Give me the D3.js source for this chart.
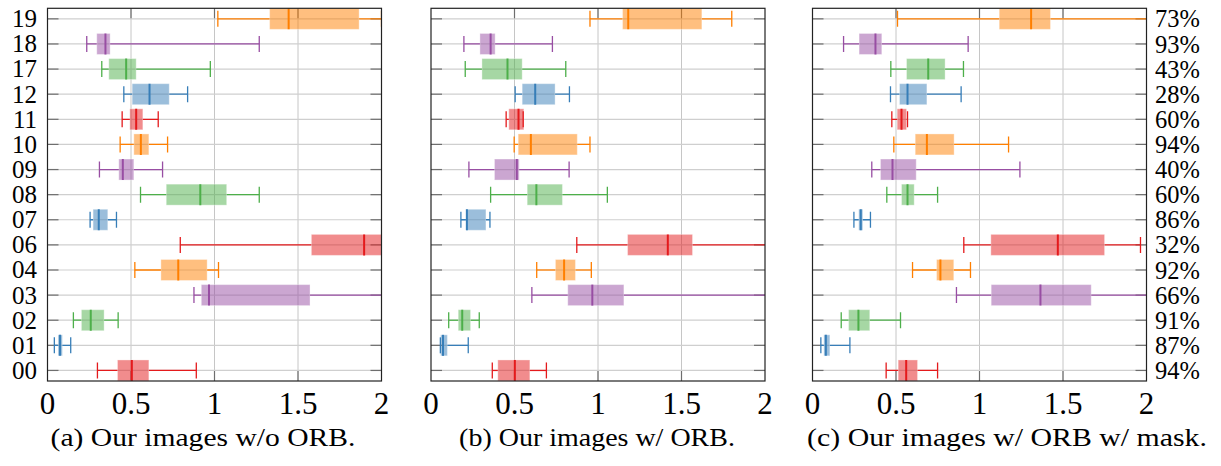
<!DOCTYPE html>
<html>
<head>
<meta charset="utf-8">
<script src="https://cdn.jsdelivr.net/npm/d3@7"></script>
<style>
  html, body { margin: 0; padding: 0; background: #fff; }
  svg { display: block; }
</style>
</head>
<body>
<svg id="chart" width="1221" height="466"></svg>
<script>
// Sequence names, bottom row first
const rowLabels = ["00", "01", "02", "03", "04", "06", "07", "08", "09", "10", "11", "12", "17", "18", "19"];

// Success rates printed beside the third panel (same row order)
const percentLabels = ["94%", "87%", "91%", "66%", "92%", "32%", "86%", "60%", "40%", "94%", "60%", "28%", "43%", "93%", "73%"];

// X axis ticks
const xTicks = [0, 0.5, 1, 1.5, 2];
const xTickLabels = ["0", "0.5", "1", "1.5", "2"];

// Box statistics per row: [lower whisker, Q1, median, Q3, upper whisker]
const statsNoOrb = [
  [0.299, 0.419, 0.505, 0.607, 0.891],
  [0.041, 0.063, 0.075, 0.089, 0.139],
  [0.155, 0.203, 0.259, 0.339, 0.423],
  [0.877, 0.921, 0.967, 1.572, 2.3],
  [0.523, 0.679, 0.783, 0.956, 1.024],
  [0.795, 1.580, 1.896, 2.05, 2.5],
  [0.255, 0.273, 0.307, 0.361, 0.413],
  [0.557, 0.711, 0.915, 1.073, 1.268],
  [0.311, 0.427, 0.451, 0.517, 0.689],
  [0.435, 0.517, 0.559, 0.607, 0.719],
  [0.447, 0.493, 0.531, 0.571, 0.663],
  [0.457, 0.507, 0.611, 0.729, 0.839],
  [0.325, 0.367, 0.471, 0.531, 0.975],
  [0.235, 0.295, 0.347, 0.375, 1.268],
  [1.020, 1.330, 1.444, 1.866, 2.0]
];

const statsOrb = [
  [0.367, 0.400, 0.502, 0.592, 0.691],
  [0.056, 0.058, 0.072, 0.098, 0.223],
  [0.106, 0.163, 0.187, 0.237, 0.289],
  [0.604, 0.819, 0.966, 1.155, 2.3],
  [0.633, 0.745, 0.797, 0.865, 0.960],
  [0.873, 1.177, 1.418, 1.566, 2.3],
  [0.179, 0.209, 0.215, 0.329, 0.353],
  [0.357, 0.576, 0.631, 0.787, 1.056],
  [0.227, 0.380, 0.514, 0.528, 0.827],
  [0.498, 0.522, 0.598, 0.876, 0.952],
  [0.450, 0.466, 0.524, 0.556, 0.552],
  [0.504, 0.546, 0.624, 0.743, 0.829],
  [0.205, 0.305, 0.458, 0.546, 0.807],
  [0.197, 0.293, 0.357, 0.384, 0.727],
  [0.952, 1.147, 1.181, 1.622, 1.801]
];

const statsOrbMask = [
  [0.441, 0.513, 0.561, 0.629, 0.749],
  [0.050, 0.068, 0.080, 0.104, 0.224],
  [0.172, 0.216, 0.275, 0.343, 0.527],
  [0.862, 1.070, 1.365, 1.669, 2.3],
  [0.599, 0.743, 0.766, 0.846, 0.946],
  [0.906, 1.068, 1.469, 1.749, 1.964],
  [0.248, 0.277, 0.289, 0.301, 0.347],
  [0.445, 0.533, 0.569, 0.609, 0.749],
  [0.355, 0.407, 0.479, 0.621, 1.242],
  [0.487, 0.615, 0.685, 0.848, 1.174],
  [0.475, 0.507, 0.533, 0.563, 0.569],
  [0.467, 0.521, 0.569, 0.685, 0.890],
  [0.469, 0.563, 0.693, 0.794, 0.904],
  [0.186, 0.279, 0.377, 0.415, 0.932],
  [0.509, 1.118, 1.309, 1.425, 2.2]
];

const captions = ["(a) Our images w/o ORB.", "(b) Our images w/ ORB.", "(c) Our images w/ ORB w/ mask."];

// Set1 colours, cycling through the rows
const palette = ["#e41a1c", "#377eb8", "#4daf4a", "#984ea3", "#ff7f00"];

// Pick the first serif face that is actually installed
function pickSerif() {
  const ctx = document.createElement("canvas").getContext("2d");
  const probe = "Our images w/o ORB 0.5 1.5 73%";
  ctx.font = "40px monospace";
  const base = ctx.measureText(probe).width;
  const names = ["Liberation Serif", "DejaVu Serif", "Noto Serif", "Times New Roman", "FreeSerif", "Tinos"];
  for (const n of names) {
    ctx.font = `40px "${n}", monospace`;
    if (Math.abs(ctx.measureText(probe).width - base) > 0.5) return `"${n}", serif`;
  }
  return "serif";
}
const serifFamily = pickSerif();

// ---- layout ----
const panels = [
  { stats: statsNoOrb,   left: 47.5,  caption: captions[0], capX: 203,  capW: 305, yLabels: true,  pct: false },
  { stats: statsOrb,     left: 431,   caption: captions[1], capX: 597,  capW: 276, yLabels: false, pct: false },
  { stats: statsOrbMask, left: 812.5, caption: captions[2], capX: 1007, capW: 400, yLabels: false, pct: true }
];
const panelW = 334, plotTop = 8.3, plotBottom = 381;
const boxH = 21, capH = 16, tickLen = 11;

const svg = d3.select("#chart").attr("font-family", serifFamily);
const y = d3.scaleLinear().domain([-0.42, rowLabels.length - 1 + 0.42]).range([plotBottom, plotTop]);

panels.forEach((p, pi) => {
  const x = d3.scaleLinear().domain([0, 2]).range([p.left, p.left + panelW]);
  const g = svg.append("g");

  const clipId = "clip" + pi;
  svg.append("clipPath").attr("id", clipId)
    .append("rect").attr("x", p.left).attr("y", plotTop).attr("width", panelW).attr("height", plotBottom - plotTop);

  // grid
  g.append("g").selectAll("line").data(xTicks.slice(1, -1)).join("line")
    .attr("x1", d => x(d)).attr("x2", d => x(d)).attr("y1", plotTop).attr("y2", plotBottom)
    .attr("stroke", "#c6c6c6").attr("stroke-width", 1);
  g.append("g").selectAll("line").data(rowLabels).join("line")
    .attr("x1", p.left).attr("x2", p.left + panelW)
    .attr("y1", (d, i) => y(i)).attr("y2", (d, i) => y(i))
    .attr("stroke", "#cfcfcf").attr("stroke-width", 1.2);

  // inward ticks on all sides
  const tk = g.append("g").attr("stroke", "#6e6e6e").attr("stroke-width", 1.2);
  rowLabels.forEach((d, i) => {
    tk.append("line").attr("x1", p.left).attr("x2", p.left + tickLen).attr("y1", y(i)).attr("y2", y(i));
    tk.append("line").attr("x1", p.left + panelW - tickLen).attr("x2", p.left + panelW).attr("y1", y(i)).attr("y2", y(i));
  });
  xTicks.slice(1, -1).forEach(t => {
    tk.append("line").attr("x1", x(t)).attr("x2", x(t)).attr("y1", plotTop).attr("y2", plotTop + 10);
    tk.append("line").attr("x1", x(t)).attr("x2", x(t)).attr("y1", plotBottom - 10).attr("y2", plotBottom);
  });

  // boxes
  const marks = g.append("g").attr("clip-path", `url(#${clipId})`);
  p.stats.forEach((s, i) => {
    const [lo, q1, med, q3, hi] = s;
    const c = palette[i % palette.length];
    const cy = y(i);
    marks.append("rect")
      .attr("x", x(q1)).attr("width", x(q3) - x(q1))
      .attr("y", cy - boxH / 2).attr("height", boxH)
      .attr("fill", c).attr("fill-opacity", 0.5)
      .attr("stroke", "#fff").attr("stroke-opacity", 0.35).attr("stroke-width", 1);
    const w = marks.append("g").attr("stroke", c).attr("stroke-width", 1.3);
    w.append("line").attr("x1", x(lo)).attr("x2", x(q1)).attr("y1", cy).attr("y2", cy);
    if (hi > q3) w.append("line").attr("x1", x(q3)).attr("x2", x(hi)).attr("y1", cy).attr("y2", cy);
    w.append("line").attr("x1", x(lo)).attr("x2", x(lo)).attr("y1", cy - capH / 2).attr("y2", cy + capH / 2);
    w.append("line").attr("x1", x(hi)).attr("x2", x(hi)).attr("y1", cy - capH / 2).attr("y2", cy + capH / 2);
    marks.append("line")
      .attr("x1", x(med)).attr("x2", x(med)).attr("y1", cy - boxH / 2).attr("y2", cy + boxH / 2)
      .attr("stroke", c).attr("stroke-width", 2);
  });

  // frame
  g.append("rect").attr("x", p.left).attr("y", plotTop).attr("width", panelW).attr("height", plotBottom - plotTop)
    .attr("fill", "none").attr("stroke", "#222").attr("stroke-width", 1.2);

  // x tick labels
  g.append("g").selectAll("text").data(xTicks).join("text")
    .attr("x", d => x(d)).attr("y", 413.5)
    .attr("text-anchor", "middle").attr("font-size", 31)
    .text((d, i) => xTickLabels[i]);

  // row labels on the left of the first panel
  if (p.yLabels) {
    g.append("g").selectAll("text").data(rowLabels).join("text")
      .attr("x", p.left - 10.5).attr("y", (d, i) => y(i) + 8.4)
      .attr("text-anchor", "end").attr("font-size", 25)
      .text(d => d);
  }

  // success rates on the right of the last panel
  if (p.pct) {
    g.append("g").selectAll("text").data(percentLabels).join("text")
      .attr("x", p.left + panelW + 8.5).attr("y", (d, i) => y(i) + 8.6)
      .attr("text-anchor", "start").attr("font-size", 24.5)
      .text(d => d);
  }

  // caption, widened slightly to the Computer Modern set width
  const cap = g.append("text")
    .attr("x", 0).attr("y", 0)
    .attr("text-anchor", "middle").attr("font-size", 25)
    .text(p.caption);
  const natural = cap.node().getComputedTextLength();
  const sx = p.capW / natural;
  cap.attr("transform", `translate(${p.capX},446) scale(${sx},1)`);
});
</script>
</body>
</html>
